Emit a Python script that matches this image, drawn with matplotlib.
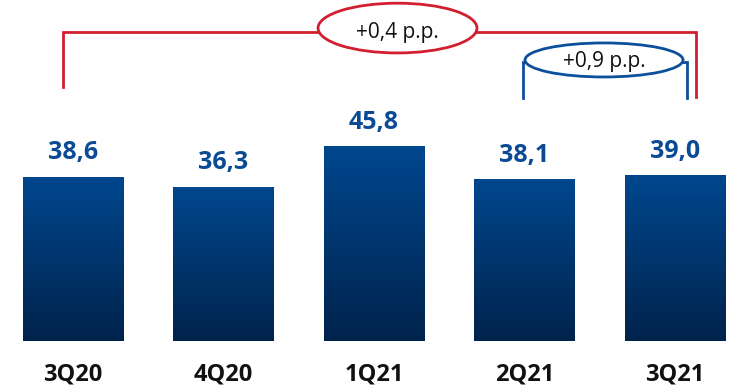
import matplotlib
matplotlib.use("Agg")
import matplotlib.pyplot as plt
import numpy as np
from matplotlib.patches import Ellipse, Rectangle
from matplotlib.colors import LinearSegmentedColormap

quarters = ["3Q20", "4Q20", "1Q21", "2Q21", "3Q21"]
values = [38.6, 36.3, 45.8, 38.1, 39.0]
value_labels = ["38,6", "36,3", "45,8", "38,1", "39,0"]
change_long = "+0,4 p.p."
change_short = "+0,9 p.p."

plt.rcParams['font.family'] = ['Open Sans', 'DejaVu Sans']

fig = plt.figure(figsize=(7.30, 3.90), dpi=100)
ax = fig.add_axes([0, 0, 1, 1])
ax.set_xlim(-0.485, 4.365)
ax.set_ylim(-11.5, 80.2)
ax.axis("off")

x = np.arange(len(quarters))
bar_w = 0.67
bars = ax.bar(x, values, width=bar_w, color="none", edgecolor="none")

# vertical gradient fill for each bar
cmap = LinearSegmentedColormap.from_list("navy", ["#00234c", "#00478e"])
grad = np.linspace(0, 1, 256).reshape(-1, 1)
for b in bars:
    x0, y0 = b.get_x(), b.get_y()
    w, h = b.get_width(), b.get_height()
    im = ax.imshow(grad, cmap=cmap, origin="lower", aspect="auto",
                   extent=[x0, x0 + w, y0, y0 + h], zorder=2)
    im.set_clip_path(Rectangle((x0, y0), w, h, transform=ax.transData))

for xi, v, lab in zip(x, values, value_labels):
    ax.text(xi, v + 4.1, lab, ha="center", va="baseline", fontsize=18,
            fontweight="bold", color="#0b4a94")

for xi, q in zip(x, quarters):
    ax.text(xi, -9.2, q, ha="center", va="baseline", fontsize=17,
            fontweight="bold", color="#111111")

# red bracket: 3Q20 -> 3Q21
red = "#d21f2f"
y_top = 72.7
ax.plot([-0.066, -0.066, 4.14, 4.14], [59.8, y_top, y_top, 57.4],
        color=red, lw=2, solid_joinstyle="miter", zorder=3)
e1 = Ellipse((2.156, 73.6), 1.056, 11.7, facecolor="white", edgecolor=red,
             lw=2, zorder=4)
ax.add_patch(e1)
ax.text(2.156, 71.3, change_long, ha="center", va="baseline", fontsize=15,
        color="#111111", zorder=5)

# blue bracket: 2Q21 -> 3Q21
blue = "#0c4f9a"
y_b = 65.6
ax.plot([2.99, 2.99, 3.05], [57.2, y_b, y_b], color=blue, lw=2,
        solid_joinstyle="miter", zorder=3)
ax.plot([4.01, 4.08, 4.08], [y_b, y_b, 57.2], color=blue, lw=2,
        solid_joinstyle="miter", zorder=3)
e2 = Ellipse((3.528, 66.1), 1.05, 8.0, facecolor="white", edgecolor=blue,
             lw=2, zorder=4)
ax.add_patch(e2)
ax.text(3.528, 64.5, change_short, ha="center", va="baseline", fontsize=15,
        color="#111111", zorder=5)

fig.savefig("out.png", dpi=100)
